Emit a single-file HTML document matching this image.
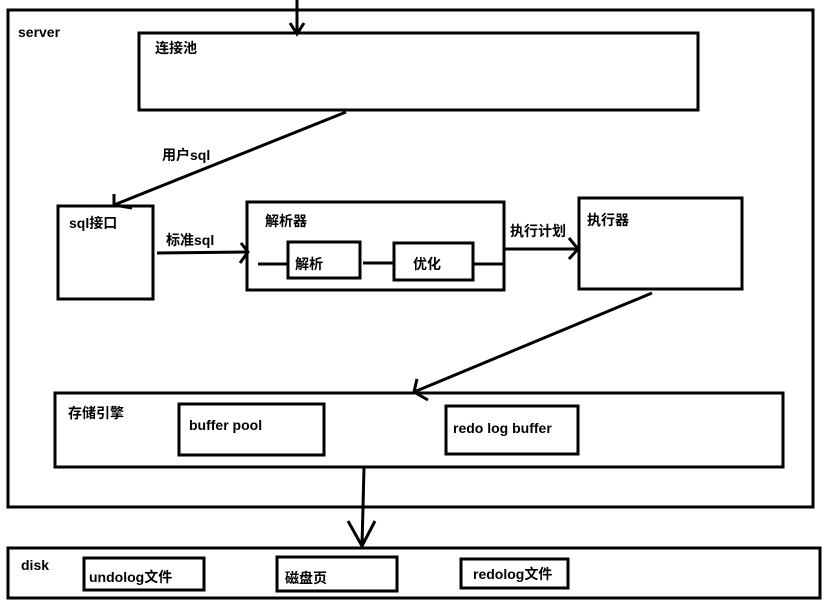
<!DOCTYPE html>
<html><head><meta charset="utf-8"><style>
html,body{margin:0;padding:0;background:#fff;width:831px;height:611px;overflow:hidden}
svg{display:block}
text{font-family:"Liberation Sans","Noto Sans CJK SC",sans-serif;font-weight:bold;font-size:14px;fill:#000}
</style></head><body>
<svg width="831" height="611" viewBox="0 0 831 611" xmlns="http://www.w3.org/2000/svg">
<g fill="none" stroke="#000" stroke-width="3">
<rect x="8" y="10" width="805" height="497"/>
<rect x="139" y="33" width="559" height="77"/>
<rect x="58" y="206" width="95" height="93"/>
<rect x="247" y="202" width="257" height="88"/>
<rect x="288" y="242" width="72" height="36"/>
<rect x="394" y="243" width="79" height="37"/>
<rect x="579" y="198" width="163" height="91"/>
<rect x="55" y="393" width="728" height="74"/>
<rect x="179" y="404" width="145" height="51"/>
<rect x="446" y="406" width="132" height="48"/>
<rect x="8" y="548" width="812" height="50"/>
<rect x="84" y="558" width="120" height="32"/>
<rect x="277" y="557" width="120" height="34"/>
<rect x="461" y="559" width="107" height="29"/>
<line x1="297" y1="0" x2="297" y2="34"/>
<polyline points="290,23 297,34 304,23"/>
<line x1="346" y1="112" x2="114" y2="205"/>
<polyline points="114,194 114,205 132,208"/>
<line x1="157" y1="253" x2="248" y2="252"/>
<polyline points="241,243 248,252 240,263"/>
<line x1="258" y1="264" x2="288" y2="264"/>
<line x1="363" y1="263" x2="394" y2="263"/>
<line x1="473" y1="264" x2="504" y2="264"/>
<line x1="504" y1="249" x2="578" y2="249"/>
<polyline points="569,238 578,249 569,259"/>
<line x1="652" y1="293" x2="414" y2="392"/>
<polyline points="417,379 414,392 428,400"/>
<line x1="364" y1="468" x2="362" y2="546"/>
<polyline points="348,521 362,546 375,521"/>
</g>
<text x="18" y="37">server</text>
<text x="155" y="53">连接池</text>
<text x="162" y="160">用户sql</text>
<text x="69" y="228" font-size="15">sql接口</text>
<text x="166" y="245">标准sql</text>
<text x="265" y="226">解析器</text>
<text x="295" y="269">解析</text>
<text x="413" y="269">优化</text>
<text x="510" y="236">执行计划</text>
<text x="587" y="225">执行器</text>
<text x="68" y="418">存储引擎</text>
<text x="189" y="430" font-size="16">buffer pool</text>
<text x="453" y="433" font-size="16">redo log buffer</text>
<text x="21" y="570">disk</text>
<text x="89" y="582" font-size="16">undolog文件</text>
<text x="285" y="583">磁盘页</text>
<text x="473" y="579" font-size="16">redolog文件</text>
</svg>
</body></html>
